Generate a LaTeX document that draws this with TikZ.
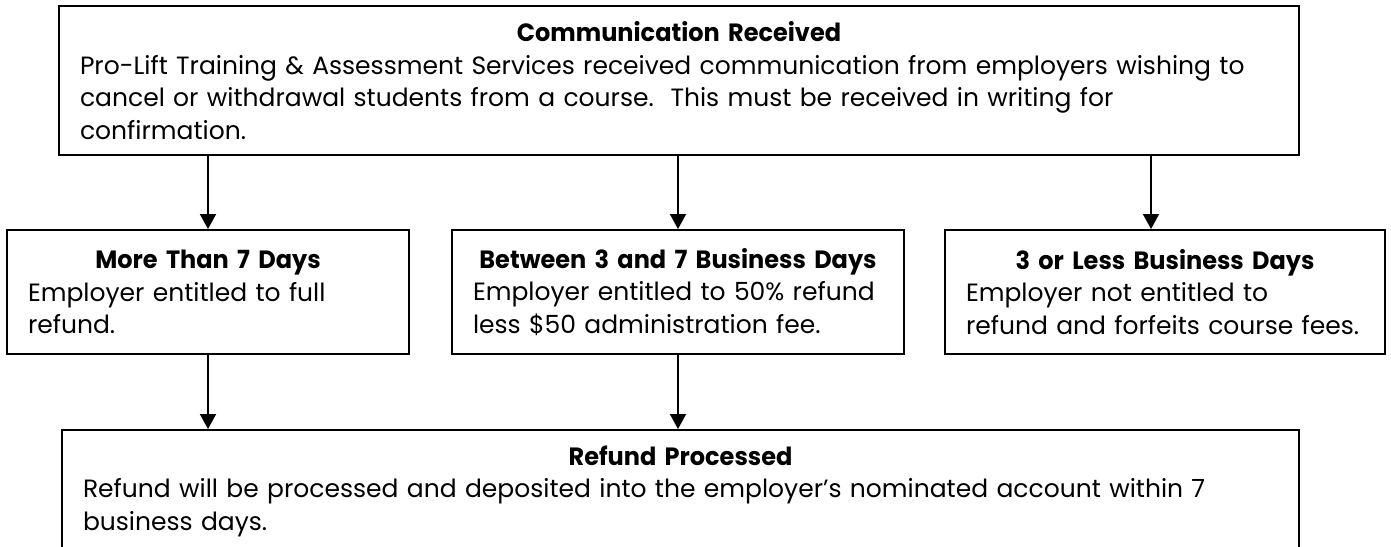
\documentclass[tikz,border=0pt]{standalone}
\usepackage{fontspec}
\setmainfont{Poppins}[BoldFeatures={FakeStretch=0.96}]
\usetikzlibrary{arrows.meta}
\begin{document}
\begin{tikzpicture}[x=0.5pt,y=-0.5pt,
  box/.style={draw, line width=1pt, anchor=north west, inner xsep=10.5pt, inner ysep=0pt,
    font=\fontsize{12.5}{16.25}\selectfont},
  arr/.style={line width=1pt, -{Triangle[length=7.5pt,width=8pt]}}]
\fill[white] (0,0) rectangle (1391,546);
\useasboundingbox (0,0) rectangle (1391,546);
\node[box, minimum width=620pt, minimum height=74.5pt, text width=599pt] (top) at (58,5)
  {{\centering\mbox{\bfseries Communication Received}\par}\raggedright
   \mbox{Pro-Lift Training \& Assessment Services received communication from employers wishing to}\\
   \mbox{cancel or withdrawal students from a course.\ \ This must be received in writing for}\\
   \mbox{confirmation.}};
\node[box, minimum width=201pt, minimum height=62pt, text width=180pt] (l) at (6,229)
  {{\centering\mbox{\bfseries More Than 7 Days}\par}\raggedright
   \mbox{Employer entitled to full}\\ \mbox{refund.}};
\node[box, minimum width=226pt, minimum height=62pt, text width=205pt] (m) at (451,229)
  {{\centering\mbox{\bfseries Between 3 and 7 Business Days}\par}\raggedright
   \mbox{Employer entitled to 50\% refund}\\ \mbox{less \$50 administration fee.}};
\node[box, minimum width=220pt, minimum height=62pt, text width=199pt] (r) at (944,229)
  {{\centering\mbox{\bfseries 3 or Less Business Days}\par}\raggedright
   \mbox{Employer not entitled to}\\ \mbox{refund and forfeits course fees.}};
\node[box, minimum width=618.5pt, minimum height=61pt, text width=597.5pt] (b) at (61,429)
  {{\centering\mbox{\bfseries Refund Processed}\par}\raggedright
   \mbox{Refund will be processed and deposited into the employer’s nominated account within 7}\\
   \mbox{business days.}};
\draw[arr] (top.south -| l.north) -- (l.north);
\draw[arr] (top.south -| m.north) -- (m.north);
\draw[arr] ([xshift=-7pt]top.south -| r.north) -- ([xshift=-7pt]r.north);
\draw[arr] (l.south) -- (b.north -| l.south);
\draw[arr] (m.south) -- (b.north -| m.south);
\end{tikzpicture}
\end{document}
